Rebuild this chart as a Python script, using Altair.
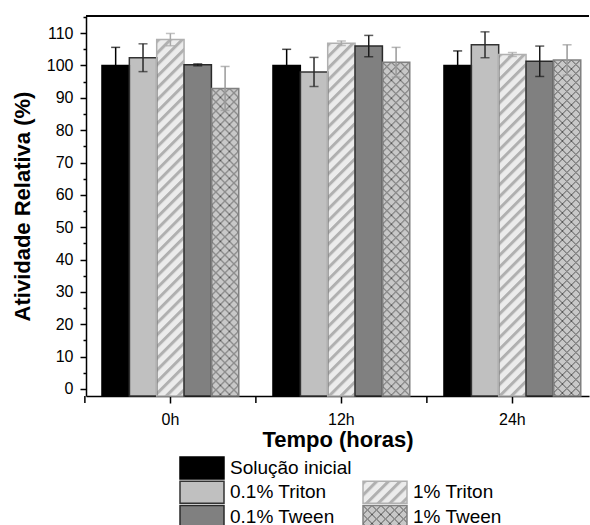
import base64

import altair as alt
import pandas as pd

# ---- data ---------------------------------------------------------------
times = ["0h", "12h", "24h"]
series = ["Solução inicial", "0.1% Triton", "1% Triton", "0.1% Tween", "1% Tween"]

solucao_mean = [100.0, 100.0, 100.0]
solucao_err = [5.6, 5.0, 4.5]
triton01_mean = [102.4, 98.0, 106.4]
triton01_err = [4.3, 4.5, 4.0]
triton1_mean = [108.0, 106.9, 103.4]
triton1_err = [1.9, 0.7, 0.6]
tween01_mean = [100.2, 106.0, 101.3]
tween01_err = [0.3, 3.3, 4.7]
tween1_mean = [92.9, 101.0, 101.7]
tween1_err = [6.8, 4.6, 4.7]

y_tick_values = list(range(0, 116, 5))

# legend grid placement (column, row) for each series
legend_col = [0, 0, 1, 0, 1]
legend_row = [0, 1, 1, 2, 2]

means = [solucao_mean, triton01_mean, triton1_mean, tween01_mean, tween1_mean]
errs = [solucao_err, triton01_err, triton1_err, tween01_err, tween1_err]

rows = []
for s, m_list, e_list in zip(series, means, errs):
    for t, m, e in zip(times, m_list, e_list):
        rows.append({"tempo": t, "serie": s, "media": m, "erro": e})
df = pd.DataFrame(rows)
ticks_df = pd.DataFrame({"tempo": times})
leg_df = pd.DataFrame({"serie": series, "col": legend_col, "row": legend_row})

# ---- styles -------------------------------------------------------------
FONT = "Liberation Sans"
W, H = 503, 380
Y_MIN, Y_MAX = -2.2, 115.3
STEP = W / (3 - 0.2 + 2 * 0.0708)
SUB_W = STEP * 0.8 / 5

fill_colors = ["#000000", "#c0c0c0", "#ececec", "#808080", "#c8c8c8"]
edge_colors = ["#000000", "#333333", "#b0b0b0", "#2a2a2a", "#808080"]
err_colors = ["#000000", "#2a2a2a", "#a8a8a8", "#1a1a1a", "#999999"]


def svg_uri(svg):
    return "data:image/svg+xml;base64," + base64.b64encode(svg.encode("utf-8")).decode("ascii")


def stripes(w, h):
    return svg_uri(
        f"<svg xmlns='http://www.w3.org/2000/svg' width='{w}' height='{h}'>"
        "<defs><pattern id='p' width='8.3' height='8.3' patternUnits='userSpaceOnUse' "
        "patternTransform='rotate(45)'>"
        "<rect width='8.3' height='8.3' fill='#ececec'/>"
        "<rect width='3' height='8.3' fill='#b0b0b0'/></pattern></defs>"
        "<rect width='100%' height='100%' fill='url(#p)'/></svg>"
    )


def crosshatch(w, h):
    return svg_uri(
        f"<svg xmlns='http://www.w3.org/2000/svg' width='{w}' height='{h}'>"
        "<defs><pattern id='p' width='9' height='9' patternUnits='userSpaceOnUse'>"
        "<rect width='9' height='9' fill='#c8c8c8'/>"
        "<path d='M0,0L9,9M9,0L0,9' stroke='#555555' stroke-width='1'/></pattern></defs>"
        "<rect width='100%' height='100%' fill='url(#p)'/></svg>"
    )


patterns = {"1% Triton": stripes, "1% Tween": crosshatch}

# ---- main chart ---------------------------------------------------------
x_axis = alt.Axis(
    title="Tempo (horas)", labelAngle=0, labelFontSize=16,
    labelPadding=8, titleFontSize=22, titleFontWeight="bold", titlePadding=2,
    tickSize=7,
)
y_axis = alt.Axis(
    title="Atividade Relativa (%)", values=y_tick_values,
    labelExpr="datum.value % 10 === 0 ? datum.label : ''",
    tickSize={"condition": {"test": "datum.value % 10 === 0", "value": 6}, "value": 3},
    labelFontSize=16, labelPadding=7, titleFontSize=22, titleFontWeight="bold",
    titlePadding=12, grid=False,
)
x_scale = alt.Scale(domain=times, paddingInner=0.2, paddingOuter=0.0708, align=0.66)
x_enc = alt.X("tempo:N", scale=x_scale, axis=x_axis)
xo_enc = alt.XOffset("serie:N", scale=alt.Scale(domain=series, paddingInner=0, paddingOuter=0))
y_scale = alt.Scale(domain=[Y_MIN, Y_MAX], nice=False, zero=False)


def y_enc(field):
    return alt.Y(f"{field}:Q", scale=y_scale, axis=y_axis)


base = alt.Chart(df)

bars = base.mark_bar(strokeWidth=0).encode(
    x=x_enc, xOffset=xo_enc, y=y_enc("media"), y2=alt.datum(Y_MIN),
    fill=alt.Fill("serie:N", scale=alt.Scale(domain=series, range=fill_colors), legend=None),
)

pattern_layers = [
    base.transform_filter(alt.datum.serie == name).mark_image(
        width=SUB_W, height=H, aspect=False, align="center", baseline="top", clip=True
    ).encode(x=x_enc, xOffset=xo_enc, y=y_enc("media"), url=alt.value(make(round(SUB_W, 2), H)))
    for name, make in patterns.items()
]

outlines = base.mark_bar(fillOpacity=0, strokeWidth=1.5).encode(
    x=x_enc, xOffset=xo_enc, y=y_enc("media"), y2=alt.datum(Y_MIN),
    stroke=alt.Stroke("serie:N", scale=alt.Scale(domain=series, range=edge_colors), legend=None),
)

err_base = base.transform_calculate(lo="datum.media - datum.erro", hi="datum.media + datum.erro")
err_color = alt.Color("serie:N", scale=alt.Scale(domain=series, range=err_colors), legend=None)
err_rule = err_base.mark_rule(strokeWidth=1.5).encode(
    x=x_enc, xOffset=xo_enc, y=y_enc("lo"), y2="hi:Q", color=err_color
)
cap_lo = err_base.mark_tick(size=9, thickness=1.5).encode(
    x=x_enc, xOffset=xo_enc, y=y_enc("lo"), color=err_color
)
cap_hi = err_base.mark_tick(size=9, thickness=1.5).encode(
    x=x_enc, xOffset=xo_enc, y=y_enc("hi"), color=err_color
)

# ticks on the x axis halfway between the groups
boundary_ticks = alt.Chart(ticks_df).mark_rule(
    strokeWidth=1.5, color="black", xOffset=-STEP * 0.1
).encode(
    x=alt.X("tempo:N", scale=x_scale, axis=x_axis, bandPosition=0),
    y=alt.value(H), y2=alt.value(H + 7),
)
top_frame = alt.Chart(ticks_df).mark_rule(strokeWidth=1.5, color="black").encode(
    x=alt.value(0), x2=alt.value(W), y=alt.value(0)
)

main = alt.layer(
    bars, *pattern_layers, outlines, err_rule, cap_lo, cap_hi, boundary_ticks, top_frame
).properties(width=W, height=H)

# ---- legend -------------------------------------------------------------
RECT = "M-1,-0.5H1V0.5H-1Z"
lx = alt.X("col:Q", scale=alt.Scale(domain=[0, 1], range=[116, 299]), axis=None)
ly = alt.Y("row:Q", scale=alt.Scale(domain=[0, 2], range=[10, 58.5]), axis=None)
leg = alt.Chart(leg_df)

swatch = leg.mark_point(shape=RECT, size=44 * 44, filled=True, opacity=1, strokeWidth=0).encode(
    x=lx, y=ly,
    fill=alt.Fill("serie:N", scale=alt.Scale(domain=series, range=fill_colors), legend=None),
)
swatch_patterns = [
    leg.transform_filter(alt.datum.serie == name).mark_image(
        width=44, height=22, aspect=False, align="center", baseline="middle"
    ).encode(x=lx, y=ly, url=alt.value(make(44, 22)))
    for name, make in patterns.items()
]
swatch_edge = leg.mark_point(shape=RECT, size=44 * 44, filled=False, opacity=1,
                             fillOpacity=0, strokeWidth=1.5).encode(
    x=lx, y=ly,
    stroke=alt.Stroke("serie:N", scale=alt.Scale(domain=series, range=edge_colors), legend=None),
)
labels = leg.mark_text(align="left", baseline="middle", dx=28, fontSize=19,
                       font=FONT, color="black").encode(x=lx, y=ly, text="serie:N")

legend = alt.layer(swatch, *swatch_patterns, swatch_edge, labels).properties(width=W, height=66)

chart = alt.vconcat(main, legend, spacing=4).properties(
    padding={"left": 11, "top": 15, "right": 0, "bottom": 0}
).configure(font=FONT).configure_view(stroke=None).configure_axis(
    domainColor="black", domainWidth=1.5, tickColor="black", tickWidth=1.5,
    labelColor="black", titleColor="black", labelFont=FONT, titleFont=FONT,
)

chart.save("out.html", embed_options={"renderer": "svg", "actions": False})
